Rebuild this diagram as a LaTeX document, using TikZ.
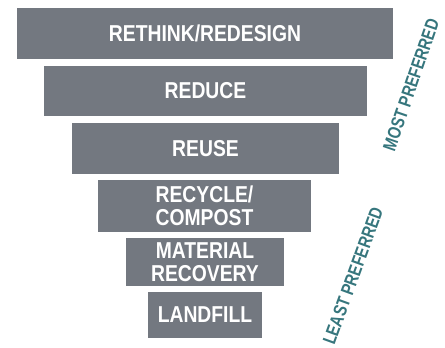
\documentclass[tikz,border=0pt]{standalone}
\usepackage{fontspec}
\newfontfamily\boxfont{Liberation Sans}[FakeStretch=0.84]
\newfontfamily\sidefont{Liberation Sans}[FakeStretch=0.8]
\definecolor{boxgray}{HTML}{737880}
\definecolor{teal}{HTML}{36767D}
\tikzset{
  tier/.style={fill=boxgray, draw=none, inner sep=0pt, text=white, align=center,
    font=\boxfont\bfseries\fontsize{23}{22.5}\selectfont},
  pref/.style={text=teal, inner sep=0pt, font=\sidefont\bfseries\fontsize{18.5}{19}\selectfont}
}
\begin{document}
\begin{tikzpicture}[x=1pt,y=-1pt]
\useasboundingbox (0,0) rectangle (445,348);
\node[tier, minimum width=376pt, minimum height=51pt] (b1) at (205,33.5) {RETHINK/REDESIGN};
\node[tier, minimum width=323pt, minimum height=50pt] (b2) at (205.5,91) {REDUCE};
\node[tier, minimum width=267pt, minimum height=51pt] (b3) at (205.5,148.5) {REUSE};
\node[tier, minimum width=213pt, minimum height=52pt] (b4) at (204.5,206) {RECYCLE/\\COMPOST};
\node[tier, minimum width=158pt, minimum height=48pt] (b5) at (205,262) {MATERIAL\\RECOVERY};
\node[tier, minimum width=114pt, minimum height=46pt] (b6) at (205,315) {LANDFILL};
\node[pref, rotate=71] (most) at (411,85) {MOST PREFERRED};
\node[pref, rotate=70] (least) at (353,276) {LEAST PREFERRED};
\end{tikzpicture}
\end{document}
